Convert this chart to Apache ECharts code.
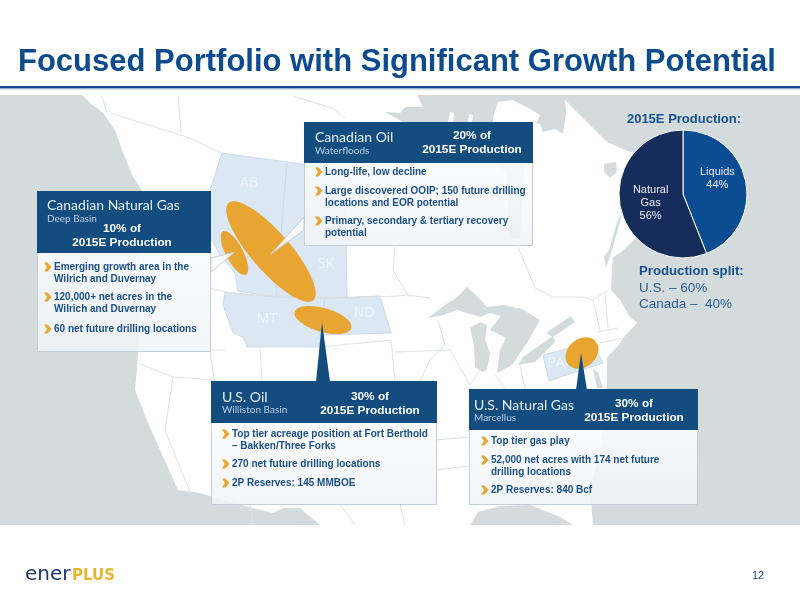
<!DOCTYPE html>
<html>
<head>
<meta charset="utf-8">
<style>html,body{margin:0;padding:0;background:#fff}#main{width:800px;height:600px}</style>
<script src="https://cdn.jsdelivr.net/npm/echarts@6/dist/echarts.min.js"></script>
</head>
<body>
<div id="main"></div>
<script>
// chart data
var pieNames = ['Liquids', 'Natural\nGas'];
var pieValues = [44, 56];
var pieTitle = '2015E Production:';
var splitTitle = 'Production split:';
var splitLines = ['U.S. – 60%', 'Canada –  40%'];
var slideTitle = 'Focused Portfolio with Significant Growth Potential';
var pageNumber = '12';

var boxTitles = ['Canadian Natural Gas', 'Canadian Oil', 'U.S. Oil', 'U.S. Natural Gas'];
var boxSubs = ['Deep Basin', 'Waterfloods', 'Williston Basin', 'Marcellus'];
var boxShares = ['10% of', '20% of', '30% of', '30% of'];
var shareLine = '2015E Production';
var boxBullets = [
    [['Emerging growth area in the', 'Wilrich and Duvernay'], ['120,000+ net acres in the', 'Wilrich and Duvernay'], ['60 net future drilling locations']],
    [['Long-life, low decline'], ['Large discovered OOIP; 150 future drilling', 'locations and EOR potential'], ['Primary, secondary & tertiary recovery', 'potential']],
    [['Top tier acreage position at Fort Berthold', '– Bakken/Three Forks'], ['270 net future drilling locations'], ['2P Reserves: 145 MMBOE']],
    [['Top tier gas play'], ['52,000 net acres with 174 net future', 'drilling locations'], ['2P Reserves: 840 Bcf']]
];

// where each callout sits on the slide
var boxLayout = [
    {x: 37, y: 191, w: 173, head: 62, h: 160, titleY: 205, subY: 219, textX: 47, shareX: 122, shareY: 229, bulletX: 54, bulletY: [267, 297, 329]},
    {x: 304, y: 122, w: 228, head: 41, h: 123, titleY: 137, subY: 151, textX: 315, shareX: 472, shareY: 136, bulletX: 325, bulletY: [172, 191, 221]},
    {x: 211, y: 381, w: 225, head: 42, h: 123, titleY: 397, subY: 410, textX: 222, shareX: 370, shareY: 397, bulletX: 232, bulletY: [434, 464, 483]},
    {x: 469, y: 389, w: 228, head: 41, h: 115, titleY: 405, subY: 418, textX: 474, shareX: 634, shareY: 404, bulletX: 491, bulletY: [441, 460, 490]}
];

// background map
var landShape = [[82,95],[90,103],[103,113],[115,130],[122,150],[133,177],[143,192],[140,260],[138,357],[135,390],[148,423],[178,490],[200,493],[233,503],[273,513],[283,508],[300,508],[320,525],[470,525],[478,512],[500,506],[530,505],[560,517],[573,525],[593,525],[590,490],[600,450],[607,387],[607,357],[617,347],[623,338],[637,323],[630,317],[620,300],[611,290],[612,270],[613,257],[620,253],[637,237],[650,190],[640,155],[625,150],[607,142],[580,115],[565,100],[566,112],[563,134],[555,129],[543,132],[540,124],[532,122],[524,170],[520,238],[510,238],[506,175],[470,122],[403,122],[385,112],[400,113],[405,107],[423,107],[417,95]];
var waterShapes = [
    [[428,318],[445,305],[457,297],[467,287],[478,297],[487,307],[505,305],[523,310],[538,320],[520,316],[507,318],[490,313],[480,317],[457,310],[440,316]],
    [[470,328],[474,345],[475,367],[482,372],[487,370],[490,353],[485,340],[487,325],[480,322]],
    [[504,312],[520,308],[540,320],[527,343],[520,353],[512,365],[497,373],[500,350],[506,338],[490,330]],
    [[518,365],[523,357],[553,336],[555,342],[535,362]],
    [[546,333],[571,316],[575,322],[553,337]],
    [[593,369],[598,372],[603,388],[597,388]],
    [[604,257],[609,250],[617,222],[622,212],[620,222],[612,250],[606,268]],
    [[604,164],[616,162],[617,172],[610,178],[604,172]]
];
var islandShapes = [
    [[448,122],[450,112],[454,113],[453,122]],
    [[468,122],[469,114],[473,115],[472,122]],
    [[493,122],[493,117],[498,102],[513,100],[530,109],[540,115],[537,122]]
];
var provinceShapes = [
    [[222,153],[287,162],[276,297],[238,291],[235,273],[220,255],[210,237],[210,190]],
    [[287,162],[345,170],[347,298],[276,297]],
    [[225,292],[276,297],[325,298],[319,347],[262,347],[247,347],[243,337],[233,333],[223,305]],
    [[325,298],[380,296],[391,333],[320,335]],
    [[543,355],[592,342],[603,363],[549,381]]
];
var borderLines = [
    [[102,96],[107,113]], [[178,96],[181,133]], [[293,96],[332,108],[345,118]],
    [[110,113],[187,137],[222,153]], [[287,162],[345,170],[395,170]],
    [[209,288],[240,295],[347,298],[398,296],[408,295],[430,298]],
    [[395,247],[393,270],[408,295]], [[518,247],[535,288],[553,297],[583,297],[593,300],[608,290]],
    [[138,363],[173,377],[214,380]], [[173,377],[165,430],[190,492]],
    [[214,380],[210,350]], [[225,350],[210,350]], [[260,347],[262,381]],
    [[320,347],[391,340],[395,381]], [[395,352],[450,350],[470,385]],
    [[436,440],[470,437]], [[436,470],[469,466]], [[340,504],[355,525]], [[250,504],[253,525]],
    [[400,504],[405,525]], [[420,381],[430,360],[445,345],[438,320]],
    [[470,385],[480,370]], [[495,375],[505,389]], [[520,365],[525,389]],
    [[593,300],[600,330]], [[605,295],[608,328]], [[598,332],[618,328]], [[600,343],[622,338]]
];
var ovalShapes = [
    {cx: 271, cy: 251.5, rx: 64.5, ry: 19.5, angle: 49},
    {cx: 234.5, cy: 253, rx: 24.5, ry: 8.6, angle: 62},
    {cx: 323, cy: 320, rx: 29.5, ry: 12, angle: 16},
    {cx: 582, cy: 353, rx: 18, ry: 14, angle: -40}
];
var mapLabels = [['AB', 249, 183], ['SK', 326, 264], ['MT', 267, 319], ['ND', 364, 313], ['PA', 556, 363]];

var navy = '#134d80', textBlue = '#1a4f8c', gold = '#e8a531';
var elements = [];

function addPoly(points, fill, stroke) {
    elements.push({type: 'polygon', shape: {points: points}, style: {fill: fill, stroke: stroke || null, lineWidth: 1}, silent: true});
}
function addText(str, x, y, font, color, align) {
    elements.push({type: 'text', x: x, y: y, silent: true, style: {text: str, font: font, fill: color, align: align || 'left', verticalAlign: 'middle'}});
}

// slide frame and map
elements.push({type: 'rect', shape: {x: 0, y: 95, width: 800, height: 430}, style: {fill: '#d3dbdd'}, silent: true});
addPoly(landShape, '#ffffff');
islandShapes.forEach(function (s) { addPoly(s, '#ffffff'); });
provinceShapes.forEach(function (s) { addPoly(s, '#dbe7f3', '#cfdbe6'); });
waterShapes.forEach(function (s) { addPoly(s, '#d3dbdd'); });
borderLines.forEach(function (l) {
    elements.push({type: 'polyline', shape: {points: l}, style: {stroke: '#dde2e6', lineWidth: 1, fill: null}, silent: true});
});
mapLabels.forEach(function (l) { addText(l[0], l[1], l[2], '14px "Open Sans"', '#eef4fa', 'center'); });
ovalShapes.forEach(function (o) {
    elements.push({type: 'ellipse', x: o.cx, y: o.cy, rotation: -o.angle * Math.PI / 180, shape: {cx: 0, cy: 0, rx: o.rx, ry: o.ry}, style: {fill: gold}, silent: true});
});

// pointers from the callouts to the plays
addPoly([[211,258],[211,272],[235,252]], 'rgba(255,255,255,0.8)', '#c3ced7');
addPoly([[304,217],[304,230],[271,254]], 'rgba(255,255,255,0.8)', '#c3ced7');
addPoly([[316,382],[330,382],[322,322]], navy);
addPoly([[576,390],[587,390],[581,353]], navy);

// callouts
boxLayout.forEach(function (b, i) {
    elements.push({type: 'rect', shape: {x: b.x + 0.5, y: b.y + 0.5, width: b.w, height: b.h}, silent: true, style: {
        stroke: '#c3ced7', lineWidth: 1,
        fill: {type: 'linear', x: 0, y: 0, x2: 0, y2: 1, colorStops: [{offset: 0, color: 'rgba(255,255,255,0.92)'}, {offset: 1, color: 'rgba(240,244,247,0.85)'}]}
    }});
    elements.push({type: 'rect', shape: {x: b.x, y: b.y, width: b.w + 1, height: b.head}, style: {fill: navy}, silent: true});
    addText(boxTitles[i], b.textX, b.titleY, '14px Lato', '#e6eef5');
    addText(boxSubs[i], b.textX, b.subY, '10px Lato', '#bccde0');
    addText(boxShares[i], b.shareX, b.shareY, 'bold 11.8px "Liberation Sans"', '#ffffff', 'center');
    addText(shareLine, b.shareX, b.shareY + 14, 'bold 11.8px "Liberation Sans"', '#ffffff', 'center');
    boxBullets[i].forEach(function (lines, k) {
        var y = b.bulletY[k], cx = b.bulletX - 10;
        addPoly([[cx,y-4.5],[cx+3.5,y-4.5],[cx+7.5,y],[cx+3.5,y+4.5],[cx,y+4.5],[cx+3,y]], gold);
        lines.forEach(function (line, n) {
            addText(line, b.bulletX, y + n * 12, 'bold 10px "Liberation Sans"', textBlue);
        });
    });
});

// header and footer
addText(slideTitle, 18, 62, 'bold 31px "Liberation Sans"', '#0c4b8e');
elements.push({type: 'rect', shape: {x: 0, y: 86, width: 800, height: 2.5}, style: {fill: '#134c8b'}, silent: true});
elements.push({type: 'rect', shape: {x: 0, y: 88.5, width: 800, height: 1}, style: {fill: '#a9bfd6'}, silent: true});
addText('ener', 25, 575, '20px "DejaVu Sans"', '#1c3766');
addText('PLUS', 72, 576, 'bold 15px "DejaVu Sans"', '#e5b52c');
addText(pageNumber, 752, 576, '11px "Liberation Sans"', '#134c8b');

// pie side
addText(pieTitle, 684, 119, 'bold 13px "Liberation Sans"', '#17508e', 'center');
addText(splitTitle, 639, 271, 'bold 13.2px "Liberation Sans"', '#17508e');
splitLines.forEach(function (s, i) { addText(s, 639, 288 + i * 16, '13.5px "Liberation Sans"', '#2a5d96'); });

var pieColors = ['#0b4d92', '#162c5a'];
var pieOffsets = [[0, -9], [2, 2]];
var option = {
    animation: false,
    graphic: {elements: elements},
    series: [{
        type: 'pie',
        center: [683, 194],
        radius: [0, 64],
        startAngle: 90,
        clockwise: true,
        silent: true,
        itemStyle: {borderColor: '#ffffff', borderWidth: 1},
        label: {
            position: 'inside',
            fontFamily: 'Liberation Sans',
            fontSize: 11,
            lineHeight: 13,
            color: '#e9edf2',
            formatter: function (p) { return p.name + '\n' + p.value + '%'; }
        },
        labelLine: {show: false},
        data: pieNames.map(function (name, i) {
            return {name: name, value: pieValues[i], itemStyle: {color: pieColors[i]}, label: {offset: pieOffsets[i]}};
        })
    }]
};

var myChart = echarts.init(document.getElementById('main'));
myChart.setOption(option);
window.onresize = myChart.resize;
</script>
</body>
</html>
